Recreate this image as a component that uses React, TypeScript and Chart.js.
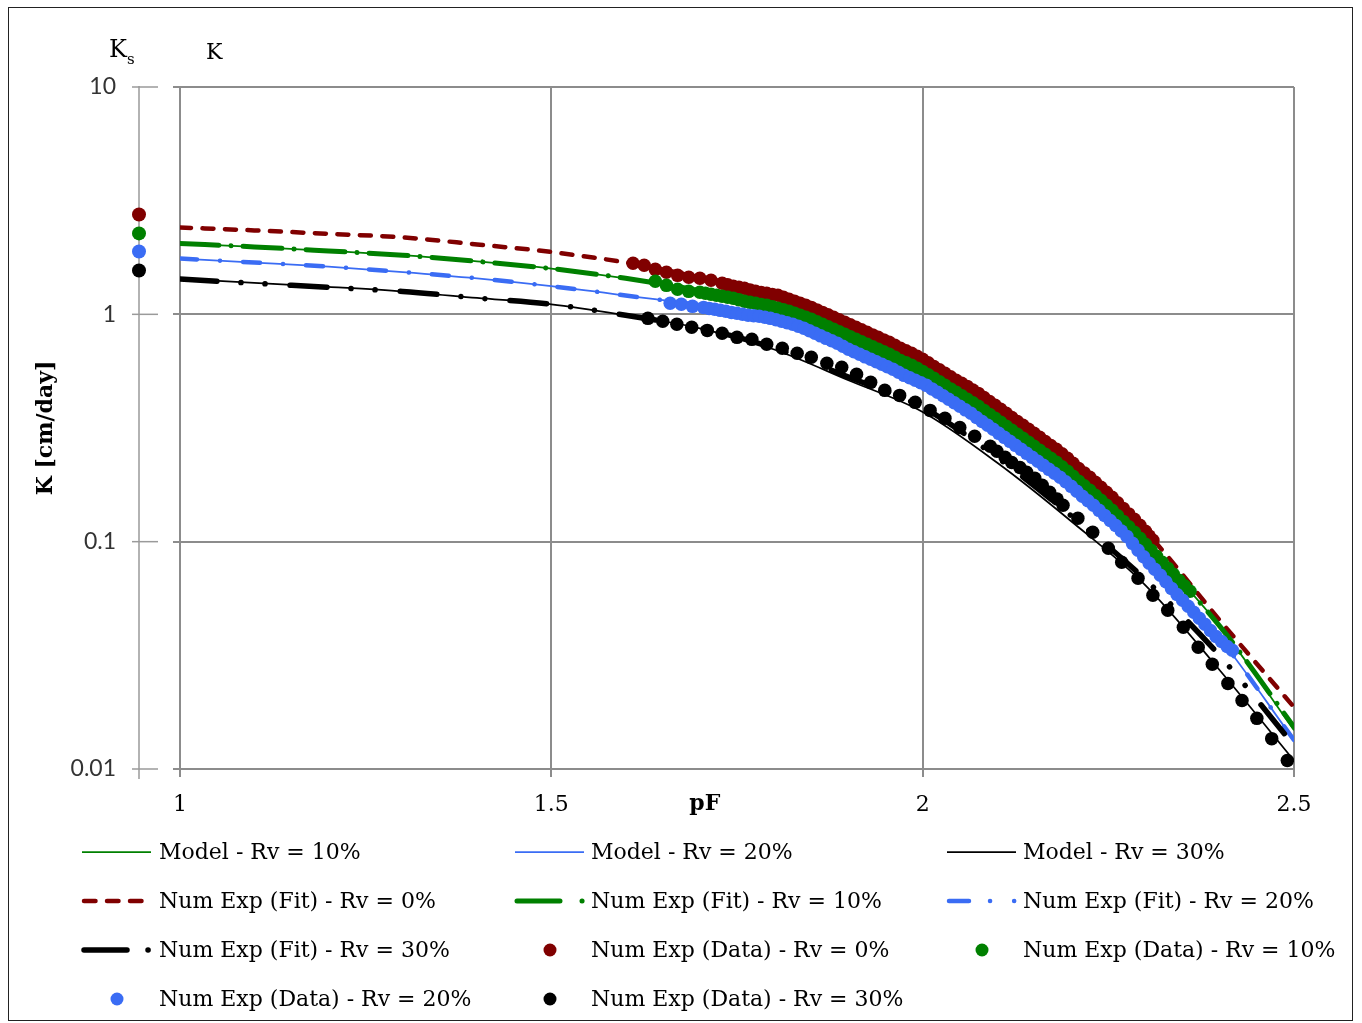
import { useEffect, useRef } from 'react';
import { Chart, registerables } from 'chart.js';

Chart.register(...registerables);

// ---------------- data ----------------
const curvePF = [1.0, 1.1, 1.2, 1.3, 1.4, 1.5, 1.6, 1.7, 1.8, 1.9, 2.0, 2.1, 2.2, 2.3, 2.4, 2.5];

const modelRv10 = [2.05, 1.98, 1.9, 1.82, 1.71, 1.59, 1.44, 1.27, 1.08, 0.79, 0.561, 0.345, 0.196, 0.0975, 0.0425, 0.0148];
const modelRv20 = [1.76, 1.69, 1.62, 1.535, 1.44, 1.33, 1.21, 1.095, 0.955, 0.7, 0.502, 0.3, 0.168, 0.0853, 0.0376, 0.0134];
const modelRv30 = [1.436, 1.375, 1.32, 1.26, 1.18, 1.107, 0.99, 0.868, 0.7, 0.513, 0.372, 0.223, 0.123, 0.0643, 0.0272, 0.0109];

const fitRv0 = [2.41, 2.34, 2.26, 2.18, 2.03, 1.88, 1.69, 1.455, 1.237, 0.89, 0.634, 0.4, 0.223, 0.111, 0.0451, 0.0187];
const fitRv10 = [2.05, 1.98, 1.9, 1.82, 1.71, 1.59, 1.44, 1.27, 1.08, 0.79, 0.561, 0.345, 0.196, 0.0975, 0.0425, 0.0153];
const fitRv20 = [1.76, 1.69, 1.62, 1.535, 1.44, 1.33, 1.21, 1.095, 0.955, 0.7, 0.502, 0.3, 0.168, 0.0853, 0.0376, 0.0134];
const fitRv30 = [1.43, 1.37, 1.315, 1.26, 1.18, 1.107, 0.99, 0.87, 0.71, 0.53, 0.39, 0.235, 0.13, 0.068, 0.0315, 0.0127];

const dataRv0PF = [1.61, 1.625, 1.64, 1.655, 1.67, 1.685, 1.7, 1.715, 1.73, 1.7375, 1.745, 1.7525, 1.76, 1.7675, 1.775, 1.7825, 1.79, 1.7975, 1.805, 1.8125, 1.82, 1.8275, 1.835, 1.8425, 1.85, 1.8575, 1.865, 1.8725, 1.88, 1.8875, 1.895, 1.9025, 1.91, 1.9175, 1.925, 1.9325, 1.94, 1.9475, 1.955, 1.9625, 1.97, 1.9775, 1.985, 1.9925, 2.0, 2.0075, 2.015, 2.0225, 2.03, 2.0375, 2.045, 2.0525, 2.06, 2.0675, 2.075, 2.0825, 2.09, 2.0975, 2.105, 2.1125, 2.12, 2.1275, 2.135, 2.1425, 2.15, 2.1575, 2.165, 2.1725, 2.18, 2.1875, 2.195, 2.2025, 2.21, 2.2175, 2.225, 2.2325, 2.24, 2.2475, 2.255, 2.2625, 2.27, 2.2775, 2.285, 2.2925, 2.3, 2.305, 2.31];
const dataRv0K = [1.676, 1.643, 1.577, 1.53, 1.484, 1.455, 1.44, 1.411, 1.369, 1.348, 1.328, 1.314, 1.301, 1.281, 1.262, 1.249, 1.237, 1.224, 1.212, 1.188, 1.164, 1.141, 1.118, 1.095, 1.073, 1.046, 1.02, 0.995, 0.97, 0.946, 0.922, 0.899, 0.877, 0.855, 0.833, 0.812, 0.792, 0.772, 0.753, 0.731, 0.709, 0.691, 0.674, 0.654, 0.634, 0.612, 0.59, 0.57, 0.55, 0.531, 0.513, 0.497, 0.482, 0.465, 0.449, 0.431, 0.414, 0.398, 0.382, 0.367, 0.352, 0.338, 0.325, 0.312, 0.3, 0.288, 0.276, 0.265, 0.255, 0.2436, 0.2326, 0.221, 0.21, 0.2007, 0.1919, 0.1824, 0.1734, 0.1648, 0.1567, 0.1482, 0.1401, 0.1325, 0.1254, 0.118, 0.111, 0.106, 0.1014];

const dataRv10PF = [1.64, 1.655, 1.67, 1.685, 1.7, 1.7075, 1.715, 1.7225, 1.73, 1.7375, 1.745, 1.7525, 1.76, 1.7675, 1.775, 1.7825, 1.79, 1.7975, 1.805, 1.8125, 1.82, 1.8275, 1.835, 1.8425, 1.85, 1.8575, 1.865, 1.8725, 1.88, 1.8875, 1.895, 1.9025, 1.91, 1.9175, 1.925, 1.9325, 1.94, 1.9475, 1.955, 1.9625, 1.97, 1.9775, 1.985, 1.9925, 2.0, 2.0075, 2.015, 2.0225, 2.03, 2.0375, 2.045, 2.0525, 2.06, 2.0675, 2.075, 2.0825, 2.09, 2.0975, 2.105, 2.1125, 2.12, 2.1275, 2.135, 2.1425, 2.15, 2.1575, 2.165, 2.1725, 2.18, 2.1875, 2.195, 2.2025, 2.21, 2.2175, 2.225, 2.2325, 2.24, 2.2475, 2.255, 2.2625, 2.27, 2.2775, 2.285, 2.2925, 2.3, 2.3075, 2.315, 2.3225, 2.33, 2.3375, 2.345, 2.3525, 2.36];
const dataRv10K = [1.397, 1.341, 1.288, 1.262, 1.25, 1.237, 1.225, 1.212, 1.2, 1.188, 1.176, 1.158, 1.141, 1.129, 1.118, 1.106, 1.095, 1.079, 1.063, 1.047, 1.031, 1.01, 0.99, 0.97, 0.951, 0.927, 0.904, 0.881, 0.859, 0.838, 0.817, 0.796, 0.776, 0.757, 0.738, 0.72, 0.702, 0.684, 0.667, 0.647, 0.627, 0.612, 0.597, 0.579, 0.561, 0.542, 0.523, 0.505, 0.487, 0.47, 0.454, 0.438, 0.423, 0.408, 0.394, 0.378, 0.363, 0.349, 0.335, 0.322, 0.309, 0.297, 0.285, 0.2736, 0.2626, 0.2522, 0.2422, 0.2326, 0.2234, 0.2134, 0.2039, 0.1938, 0.1842, 0.176, 0.1682, 0.1599, 0.152, 0.1445, 0.1373, 0.1299, 0.1228, 0.1162, 0.1099, 0.1034, 0.0973, 0.0916, 0.0862, 0.0811, 0.0763, 0.0718, 0.0676, 0.064, 0.0605];

const dataRv20PF = [1.66, 1.675, 1.69, 1.705, 1.7125, 1.72, 1.7275, 1.735, 1.7425, 1.75, 1.7575, 1.765, 1.7725, 1.78, 1.7875, 1.795, 1.8025, 1.81, 1.8175, 1.825, 1.8325, 1.84, 1.8475, 1.855, 1.8625, 1.87, 1.8775, 1.885, 1.8925, 1.9, 1.9075, 1.915, 1.9225, 1.93, 1.9375, 1.945, 1.9525, 1.96, 1.9675, 1.975, 1.9825, 1.99, 1.9975, 2.005, 2.0125, 2.02, 2.0275, 2.035, 2.0425, 2.05, 2.0575, 2.065, 2.0725, 2.08, 2.0875, 2.095, 2.1025, 2.11, 2.1175, 2.125, 2.1325, 2.14, 2.1475, 2.155, 2.1625, 2.17, 2.1775, 2.185, 2.1925, 2.2, 2.2075, 2.215, 2.2225, 2.23, 2.2375, 2.245, 2.2525, 2.26, 2.2675, 2.275, 2.2825, 2.29, 2.2975, 2.305, 2.3125, 2.32, 2.3275, 2.335, 2.3425, 2.35, 2.3575, 2.365, 2.3725, 2.38, 2.3875, 2.395, 2.4025, 2.41, 2.417];
const dataRv20K = [1.118, 1.107, 1.084, 1.073, 1.062, 1.052, 1.041, 1.031, 1.02, 1.01, 1.0, 0.99, 0.985, 0.98, 0.97, 0.96, 0.946, 0.932, 0.918, 0.904, 0.886, 0.868, 0.846, 0.825, 0.804, 0.784, 0.765, 0.746, 0.724, 0.702, 0.684, 0.667, 0.65, 0.634, 0.618, 0.603, 0.588, 0.573, 0.556, 0.539, 0.526, 0.513, 0.5, 0.487, 0.47, 0.454, 0.438, 0.423, 0.408, 0.394, 0.38, 0.367, 0.352, 0.338, 0.325, 0.312, 0.2995, 0.2876, 0.2762, 0.2652, 0.2547, 0.2446, 0.2349, 0.2256, 0.2166, 0.208, 0.1998, 0.1919, 0.1833, 0.1751, 0.1665, 0.1583, 0.1512, 0.1445, 0.1373, 0.1305, 0.124, 0.1179, 0.1115, 0.1055, 0.0983, 0.0916, 0.0858, 0.0803, 0.0756, 0.0711, 0.0666, 0.0623, 0.0586, 0.0552, 0.052, 0.0489, 0.046, 0.0433, 0.0407, 0.0383, 0.0364, 0.0346, 0.0333];

const dataRv30PF = [1.63, 1.65, 1.669, 1.689, 1.71, 1.73, 1.75, 1.77, 1.79, 1.811, 1.831, 1.85, 1.871, 1.891, 1.911, 1.93, 1.949, 1.969, 1.99, 2.01, 2.03, 2.05, 2.07, 2.091, 2.1, 2.111, 2.12, 2.131, 2.14, 2.151, 2.161, 2.171, 2.181, 2.189, 2.209, 2.229, 2.25, 2.268, 2.29, 2.31, 2.33, 2.351, 2.371, 2.39, 2.411, 2.43, 2.45, 2.47, 2.491];
const dataRv30K = [0.96, 0.932, 0.904, 0.877, 0.85, 0.825, 0.792, 0.776, 0.738, 0.709, 0.674, 0.647, 0.609, 0.585, 0.545, 0.502, 0.463, 0.44, 0.41, 0.378, 0.349, 0.318, 0.291, 0.263, 0.25, 0.235, 0.223, 0.212, 0.202, 0.19, 0.177, 0.165, 0.154, 0.1445, 0.1267, 0.11, 0.0935, 0.0811, 0.069, 0.0581, 0.0499, 0.042, 0.0343, 0.0289, 0.0238, 0.02, 0.0167, 0.0136, 0.0109];

// Saturated conductivity Ks for Rv = 0%, 10%, 20%, 30%
const ksValues = [2.75, 2.27, 1.89, 1.56];

const yTickValues = [0.01, 0.1, 1, 10];
const xTickValues = [1, 1.5, 2, 2.5];

// ---------------- styles ----------------
const RED = '#800000';
const GREEN = '#008000';
const BLUE = '#3a6cf4';
const BLACK = '#000000';
const GRID = '#8c8c8c';
const SERIF = '"DejaVu Serif", serif';
const SANS = 'Lato, "Open Sans", sans-serif';

type Spec = {
  label: string;
  kind: 'model' | 'fit' | 'data';
  color: string;
  pf: number[];
  k: number[];
  lw?: number;
  dash?: number[];
  legendDash?: number[];
};

const specs: Spec[] = [
  { label: 'Model - Rv = 10%', kind: 'model', color: GREEN, pf: curvePF, k: modelRv10, lw: 1.75 },
  { label: 'Model - Rv = 20%', kind: 'model', color: BLUE, pf: curvePF, k: modelRv20, lw: 1.75 },
  { label: 'Model - Rv = 30%', kind: 'model', color: BLACK, pf: curvePF, k: modelRv30, lw: 1.75 },
  { label: 'Num Exp (Fit) - Rv = 0%', kind: 'fit', color: RED, pf: curvePF, k: fitRv0, lw: 4.5, dash: [11, 11.5], legendDash: [11.5, 11.5] },
  { label: 'Num Exp (Fit) - Rv = 10%', kind: 'fit', color: GREEN, pf: curvePF, k: fitRv10, lw: 5, dash: [39, 12, 0.1, 12], legendDash: [43, 22, 0.1, 100] },
  { label: 'Num Exp (Fit) - Rv = 20%', kind: 'fit', color: BLUE, pf: curvePF, k: fitRv20, lw: 4.5, dash: [17, 23, 0.1, 23], legendDash: [20, 21, 0.1, 24, 0.1, 100] },
  { label: 'Num Exp (Fit) - Rv = 30%', kind: 'fit', color: BLACK, pf: curvePF, k: fitRv30, lw: 5.5, dash: [37, 24, 0.1, 24, 0.1, 25], legendDash: [43, 21, 0.1, 100] },
  { label: 'Num Exp (Data) - Rv = 0%', kind: 'data', color: RED, pf: dataRv0PF, k: dataRv0K },
  { label: 'Num Exp (Data) - Rv = 10%', kind: 'data', color: GREEN, pf: dataRv10PF, k: dataRv10K },
  { label: 'Num Exp (Data) - Rv = 20%', kind: 'data', color: BLUE, pf: dataRv20PF, k: dataRv20K },
  { label: 'Num Exp (Data) - Rv = 30%', kind: 'data', color: BLACK, pf: dataRv30PF, k: dataRv30K },
];
const ksColors = [RED, GREEN, BLUE, BLACK];

const legendColX = [82, 515, 947];
const legendTextX = [159, 591, 1023];
const legendRowY = [852, 901, 950, 999];

const extrasPlugin = {
  id: 'extras',
  afterDraw(chart: any) {
    const ctx: CanvasRenderingContext2D = chart.ctx;
    const ks = chart.scales.yKs;
    const xs = chart.scales.x;
    const ax = ks.right;
    ctx.save();

    // Ks axis
    ctx.strokeStyle = '#9a9a9a';
    ctx.lineWidth = 1.5;
    ctx.beginPath();
    ctx.moveTo(ax, ks.getPixelForValue(10) - 1);
    ctx.lineTo(ax, ks.getPixelForValue(0.01) + 10);
    ctx.stroke();
    for (const v of yTickValues) {
      const py = ks.getPixelForValue(v);
      ctx.beginPath();
      ctx.moveTo(ax - 7, py);
      ctx.lineTo(ax + 19, py);
      ctx.stroke();
    }
    // Ks points
    ksValues.forEach((v, i) => {
      ctx.fillStyle = ksColors[i];
      ctx.beginPath();
      ctx.arc(ax, ks.getPixelForValue(v), 7, 0, Math.PI * 2);
      ctx.fill();
    });

    // Texts
    ctx.fillStyle = '#000';
    ctx.textBaseline = 'alphabetic';
    ctx.textAlign = 'left';
    ctx.font = `24px ${SERIF}`;
    ctx.fillText('K', 109, 57);
    ctx.font = `15px ${SERIF}`;
    ctx.fillText('s', 127, 64);
    ctx.font = `22px ${SERIF}`;
    ctx.fillText('K', 206, 59);

    ctx.font = `bold 22px ${SERIF}`;
    ctx.textAlign = 'center';
    ctx.fillText('pF', xs.getPixelForValue(1.7) + 5, 810);

    ctx.save();
    ctx.translate(52, chart.chartArea.top + (chart.chartArea.bottom - chart.chartArea.top) / 2);
    ctx.rotate(-Math.PI / 2);
    ctx.fillText('K [cm/day]', 0, 0);
    ctx.restore();

    // Legend
    ctx.font = `22px ${SERIF}`;
    ctx.textAlign = 'left';
    ctx.textBaseline = 'middle';
    specs.forEach((s, i) => {
      const col = i % 3;
      const row = Math.floor(i / 3);
      const x0 = legendColX[col];
      const y = legendRowY[row];
      ctx.strokeStyle = s.color;
      ctx.fillStyle = s.color;
      if (s.kind === 'model') {
        ctx.setLineDash([]);
        ctx.lineWidth = 1.75;
        ctx.lineCap = 'butt';
        ctx.beginPath();
        ctx.moveTo(x0, y);
        ctx.lineTo(x0 + 69, y);
        ctx.stroke();
      } else if (s.kind === 'fit') {
        ctx.setLineDash(s.legendDash || []);
        ctx.lineWidth = s.lw || 4;
        ctx.lineCap = 'round';
        ctx.beginPath();
        ctx.moveTo(x0 + 2, y);
        ctx.lineTo(x0 + 70, y);
        ctx.stroke();
        ctx.setLineDash([]);
      } else {
        ctx.beginPath();
        ctx.arc(x0 + 35, y, 6.5, 0, Math.PI * 2);
        ctx.fill();
      }
      ctx.fillStyle = '#000';
      ctx.fillText(s.label, legendTextX[col], y + 1);
    });

    // Outer border
    ctx.strokeStyle = '#222';
    ctx.lineWidth = 1;
    ctx.strokeRect(8.5, 7.5, 1344, 1013);
    ctx.restore();
  },
};

export default function App() {
  const canvasRef = useRef<HTMLCanvasElement | null>(null);

  useEffect(() => {
    if (!canvasRef.current) return;
    const n = specs.length;
    const datasets = specs.map((s, i) => {
      const data = s.pf.map((x, j) => ({ x, y: s.k[j] }));
      if (s.kind === 'data') {
        return {
          label: s.label,
          data,
          showLine: false,
          pointRadius: 6.75,
          pointHoverRadius: 6.75,
          pointBackgroundColor: s.color,
          backgroundColor: s.color,
          pointBorderWidth: 0,
          borderWidth: 0,
          order: n - i,
          yAxisID: 'y',
        };
      }
      return {
        label: s.label,
        data,
        showLine: true,
        pointRadius: 0,
        pointHoverRadius: 0,
        borderColor: s.color,
        backgroundColor: s.color,
        borderWidth: s.lw,
        borderDash: s.dash || [],
        borderCapStyle: s.kind === 'fit' ? 'round' : 'butt',
        borderJoinStyle: 'round',
        cubicInterpolationMode: 'monotone',
        fill: false,
        order: n - i,
        yAxisID: 'y',
      };
    });

    const chart = new Chart(canvasRef.current, {
      type: 'scatter',
      data: { datasets: datasets as any },
      options: {
        animation: false,
        responsive: false,
        devicePixelRatio: 1,
        events: [],
        layout: { padding: { left: 0, right: 68, top: 87, bottom: 0 } },
        plugins: { legend: { display: false }, tooltip: { enabled: false } },
        scales: {
          x: {
            type: 'linear',
            position: 'bottom',
            min: 1,
            max: 2.5,
            afterBuildTicks: (s: any) => { s.ticks = xTickValues.map((v) => ({ value: v })); },
            afterFit: (s: any) => { s.height = 254; },
            grid: { color: GRID, lineWidth: 2, tickLength: 8, drawTicks: true },
            border: { display: true, color: GRID, width: 2 },
            ticks: {
              font: { family: SERIF, size: 22 },
              color: '#000',
              padding: 15,
              maxRotation: 0,
              autoSkip: false,
              callback: (v: any) => String(v),
            },
          },
          y: {
            type: 'logarithmic',
            position: 'left',
            weight: 0,
            min: 0.01,
            max: 10,
            afterBuildTicks: (s: any) => { s.ticks = yTickValues.map((v) => ({ value: v })); },
            afterFit: (s: any) => { s.width = 41; },
            grid: { color: GRID, lineWidth: 2, tickLength: 7, drawTicks: true },
            border: { display: true, color: GRID, width: 2 },
            ticks: { display: false },
          },
          yKs: {
            type: 'logarithmic',
            position: 'left',
            weight: 1,
            min: 0.01,
            max: 10,
            afterBuildTicks: (s: any) => { s.ticks = yTickValues.map((v) => ({ value: v })); },
            afterFit: (s: any) => { s.width = 139; },
            grid: { display: false, drawTicks: false },
            border: { display: false },
            ticks: {
              font: { family: SANS, size: 23 },
              color: '#333',
              padding: 23,
              autoSkip: false,
              callback: (v: any) => String(Number(v)),
            },
          },
        } as any,
      },
      plugins: [extrasPlugin],
    });
    return () => chart.destroy();
  }, []);

  return (
    <div style={{ position: 'absolute', left: 0, top: 0, width: 1362, height: 1023, background: '#fff' }}>
      <canvas ref={canvasRef} width={1362} height={1023} style={{ width: 1362, height: 1023, display: 'block' }} />
    </div>
  );
}
